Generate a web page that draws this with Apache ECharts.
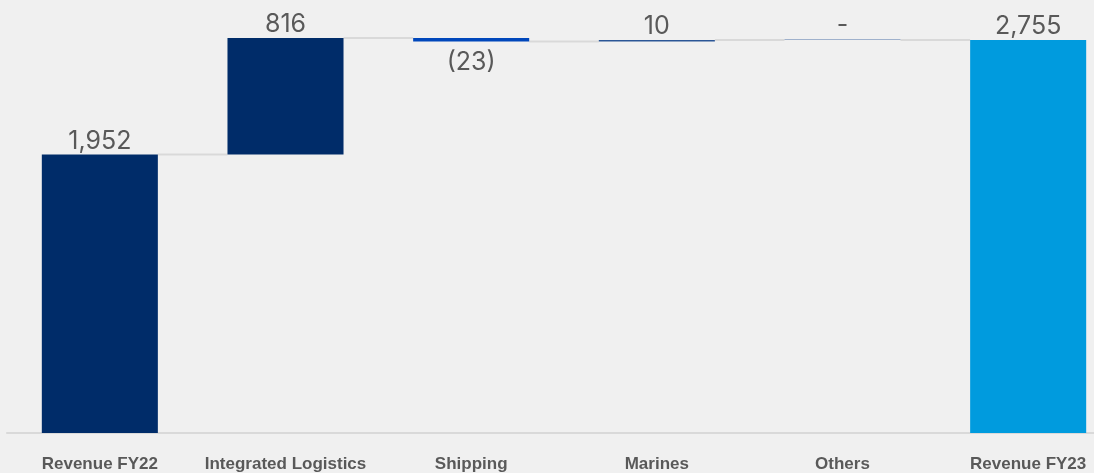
<!DOCTYPE html>
<html>
<head>
<meta charset="utf-8">
<script src="https://cdn.jsdelivr.net/npm/echarts@6/dist/echarts.min.js"></script>
<style>
  html, body { margin: 0; padding: 0; background: #f0f0f0; }
  #chart { width: 1094px; height: 473px; }
</style>
</head>
<body>
<div id="chart"></div>
<script>
// waterfall data (USD m)
const categories = ['Revenue FY22', 'Integrated Logistics', 'Shipping', 'Marines', 'Others', 'Revenue FY23'];
const values = [1952, 816, -23, 10, 0, 2755];
const isTotal = [true, false, false, false, false, true];

const barColors = ['#002c69', '#002c69', '#0047bb', '#2b5696', '#9fb1cc', '#009bde'];

// base (invisible) + visible part of each bar, plus running level after each bar
const base = [];
const height = [];
const levels = [];
let running = 0;
values.forEach(function (v, i) {
  if (isTotal[i]) {
    base.push(0);
    height.push(v);
    running = v;
  } else if (v < 0) {
    base.push(running + v);
    height.push(-v);
    running += v;
  } else {
    base.push(running);
    height.push(v);
    running += v;
  }
  levels.push(running);
});

const connectors = [];
for (let i = 0; i < categories.length - 1; i++) {
  connectors.push([i, levels[i]]);
}

function fmt(v) {
  if (v === 0) return '-';
  if (v < 0) return '(' + Math.abs(v).toLocaleString('en-US') + ')';
  return v.toLocaleString('en-US');
}

const BAR_RATIO = 0.625;

const chart = echarts.init(document.getElementById('chart'));
chart.setOption({
  backgroundColor: '#f0f0f0',
  animation: false,
  // plot area runs past the right edge, like the original slide crop
  grid: { left: 7, top: 5, right: -27, bottom: 40, outerBoundsMode: 'none' },
  xAxis: {
    type: 'category',
    data: categories,
    axisLine: { lineStyle: { color: '#d9d9d9', width: 2 } },
    axisTick: { show: false },
    axisLabel: {
      interval: 0,
      margin: 23,
      color: '#595959',
      fontFamily: 'Liberation Sans, Arial, sans-serif',
      fontWeight: 'bold',
      fontSize: 17
    }
  },
  yAxis: {
    type: 'value',
    min: 0,
    max: 3000,
    show: false,
    splitLine: { show: false }
  },
  series: [
    {
      type: 'custom',
      z: 1,
      silent: true,
      data: connectors,
      renderItem: function (params, api) {
        const i = api.value(0);
        const lvl = api.value(1);
        const band = api.size([1, 0])[0];
        const p1 = api.coord([i, lvl]);
        const p2 = api.coord([i + 1, lvl]);
        return {
          type: 'line',
          shape: {
            x1: p1[0] + band * BAR_RATIO / 2,
            y1: p1[1],
            x2: p2[0] - band * BAR_RATIO / 2,
            y2: p2[1]
          },
          style: { stroke: '#d9d9d9', lineWidth: 2 }
        };
      }
    },
    {
      type: 'bar',
      stack: 'wf',
      z: 2,
      barWidth: (BAR_RATIO * 100) + '%',
      silent: true,
      itemStyle: { color: 'transparent' },
      data: base
    },
    {
      type: 'bar',
      stack: 'wf',
      z: 3,
      barWidth: (BAR_RATIO * 100) + '%',
      barMinHeight: 1,
      data: height.map(function (h, i) {
        return {
          value: h,
          itemStyle: { color: barColors[i] },
          label: values[i] < 0 ? { position: 'bottom', distance: 9 } : { position: 'top' }
        };
      }),
      label: {
        show: true,
        distance: 1,
        color: '#595959',
        fontFamily: 'Inter, sans-serif',
        fontSize: 25,
        formatter: function (p) { return fmt(values[p.dataIndex]); }
      }
    }
  ]
});
</script>
</body>
</html>
